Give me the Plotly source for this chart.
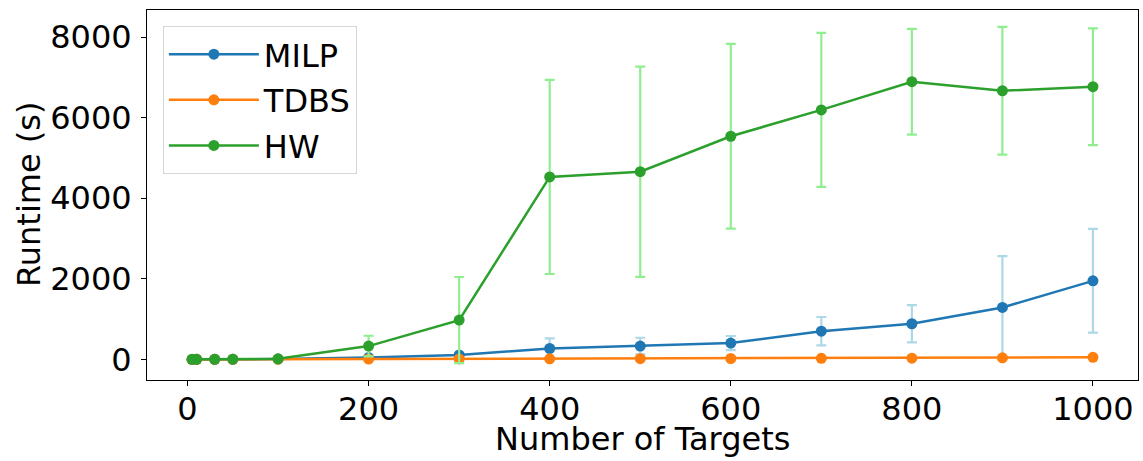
import plotly.graph_objects as go

targets = [5, 10, 30, 50, 100, 200, 300, 400, 500, 600, 700, 800, 900, 1000]

milp = [0.1, 0.3, 1, 2, 8, 45, 110, 270, 330, 405, 700, 885, 1290, 1950]
milp_err = [0, 0, 0.5, 1, 3, 15, 40, 250, 207, 175, 352, 463, 1274, 1288]

tdbs = [0.1, 0.3, 1, 2, 4, 8, 12, 15, 18, 22, 25, 30, 38, 50]
tdbs_err = [0, 0, 0, 0, 1, 2, 3, 4, 5, 5, 6, 7, 8, 10]

hw = [0.5, 1, 2, 4, 15, 330, 975, 4530, 4660, 5540, 6195, 6895, 6670, 6770]
hw_err = [0, 0, 0.5, 1, 5, 257, 1070, 2410, 2610, 2295, 1913, 1312, 1585, 1450]

series = [
    ("MILP", milp, milp_err, "#1f77b4", "#add8e6"),
    ("TDBS", tdbs, tdbs_err, "#ff7f0e", "#ffa500"),
    ("HW", hw, hw_err, "#2ca02c", "#90ee90"),
]

x_ticks = [0, 200, 400, 600, 800, 1000]
y_ticks = [0, 2000, 4000, 6000, 8000]

FONT = "DejaVu Sans"
FS = 32

fig = go.Figure()
for name, vals, errs, col, ecol in series:
    fig.add_trace(go.Scatter(
        x=targets, y=vals, name=name, mode="lines+markers",
        legendgroup=name,
        line=dict(color=col, width=2.5),
        marker=dict(color=col, size=11),
        error_y=dict(type="data", array=errs, visible=True,
                     color=ecol, thickness=2.2, width=5),
    ))

fig.update_layout(
    width=1143, height=461,
    margin=dict(l=147, r=5, t=10, b=81),
    paper_bgcolor="white", plot_bgcolor="white",
    font=dict(family=FONT, size=FS, color="black"),
    showlegend=True,
    legend=dict(
        x=0.016, y=0.957, xanchor="left", yanchor="top",
        bgcolor="rgba(255,255,255,0.8)", bordercolor="#d6d6d6", borderwidth=1,
        font=dict(family=FONT, size=FS, color="black"),
        tracegroupgap=1, traceorder="grouped", itemwidth=90,
    ),
    annotations=[
        dict(
            text="Runtime (s)", xref="paper", yref="paper", x=0, y=0.5,
            xanchor="center", yanchor="middle", xshift=-118, textangle=-90,
            showarrow=False, font=dict(family=FONT, size=FS, color="black"),
        ),
        dict(
            text="Number of Targets", xref="paper", yref="paper", x=0.5, y=0,
            xanchor="center", yanchor="top", yshift=-39, borderpad=0,
            showarrow=False, font=dict(family=FONT, size=FS, color="black"),
        ),
    ],
)
fig.update_xaxes(
    range=[-44.75, 1049.75], tickvals=x_ticks,
    ticktext=[str(v) for v in x_ticks],
    showline=True, linecolor="black", linewidth=1, mirror=True,
    ticks="outside", ticklen=5, tickcolor="black", showgrid=False, zeroline=False,
    automargin=False, ticklabelstandoff=-4,
    tickfont=dict(size=FS),
)
fig.update_yaxes(
    range=[-512, 8675], tickvals=y_ticks,
    ticktext=[str(v) for v in y_ticks],
    showline=True, linecolor="black", linewidth=1, mirror=True,
    ticks="outside", ticklen=5, tickcolor="black", showgrid=False, zeroline=False,
    automargin=False, ticklabelstandoff=3,
    tickfont=dict(size=FS),
)

fig.write_html(
    "out.html",
    config={"displayModeBar": False},
    post_script="document.body.style.margin='0px';document.body.style.overflow='hidden';",
)
